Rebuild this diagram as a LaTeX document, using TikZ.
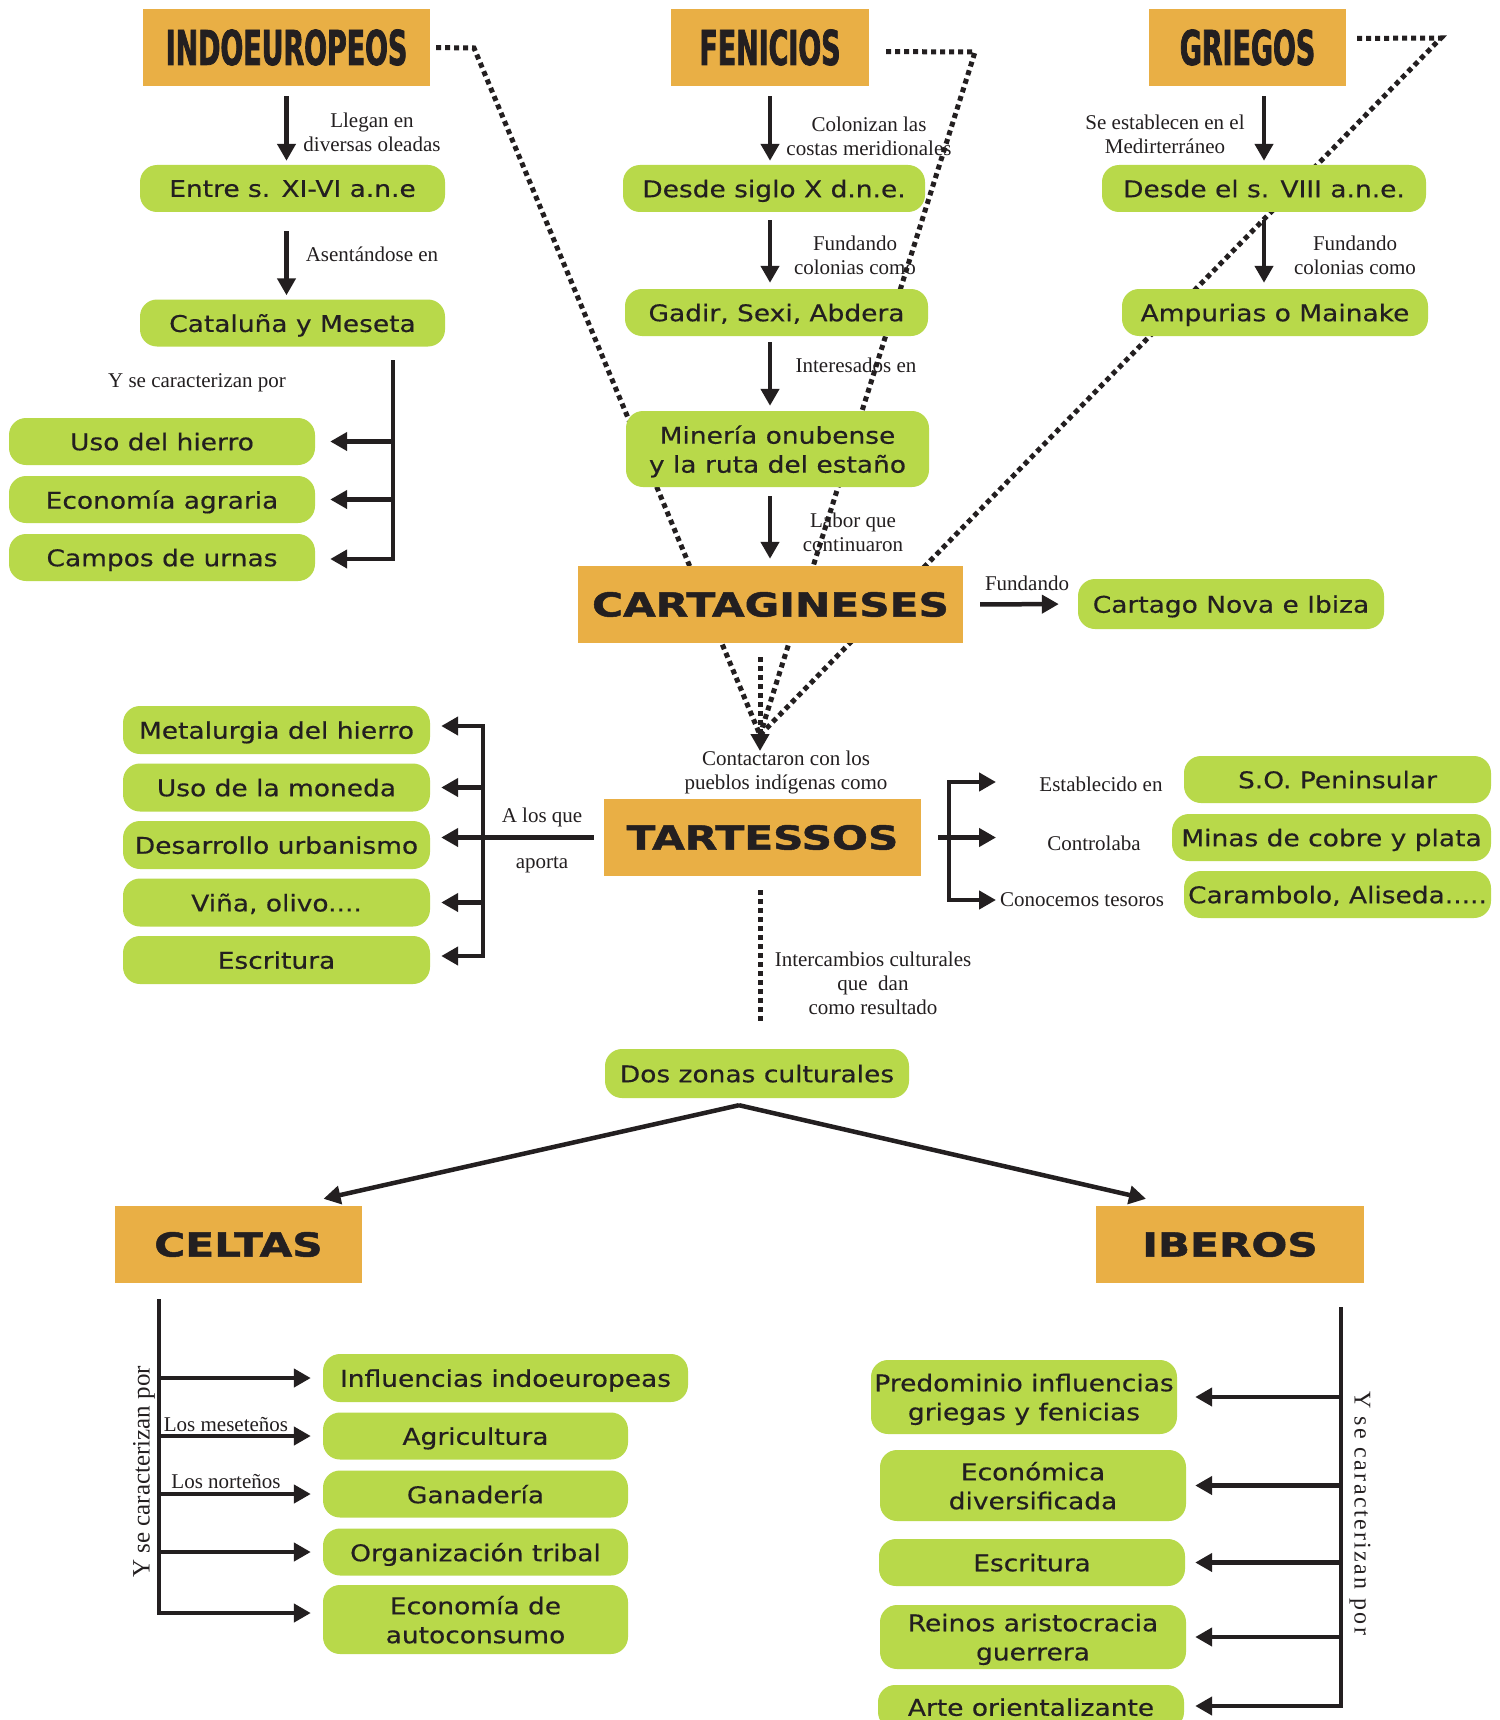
\documentclass[tikz,border=0pt]{standalone}
\usepackage{fontspec}
\usepackage{tikz}
\usetikzlibrary{arrows.meta,positioning,backgrounds}
\usepackage{color}
\setmainfont{Liberation Serif}
\newfontfamily\estrecha[FakeStretch=0.56,FakeBold=1.5]{DejaVu Sans}
\newfontfamily\ancha[FakeStretch=1.28,FakeBold=1.5]{DejaVu Sans}
\newfontfamily\redonda[FakeStretch=1.15,FakeBold=0.4]{DejaVu Sans}
\newfontfamily\espaciada[LetterSpace=10]{Liberation Serif}
\definecolor{naranja}{RGB}{233,175,69}
\definecolor{verde}{RGB}{184,217,74}
\definecolor{tinta}{RGB}{35,31,32}

\begin{document}
\begin{tikzpicture}[x=1pt,y=-1pt,>={Triangle[length=17pt,width=18pt]},node distance=58pt,
		origen/.style={fill=naranja,text=tinta,inner sep=0pt,minimum height=77pt,font=\estrecha\bfseries\fontsize{48}{48}\selectfont},
		pueblo/.style={fill=naranja,text=tinta,inner sep=0pt,minimum height=77pt,font=\ancha\bfseries\fontsize{33}{33}\selectfont},
		hecho/.style={fill=verde,text=tinta,rounded corners=17pt,inner sep=0pt,minimum width=306pt,minimum height=47pt,align=center,text depth=0pt,font=\redonda\fontsize{23}{29}\selectfont},
		nota/.style={text=tinta,inner sep=0pt,align=center,font=\fontsize{21}{24}\selectfont},
		flecha/.style={->,draw=tinta,line width=4.5pt},
		puntos/.style={draw=tinta,line width=5pt,dash pattern=on 5pt off 4pt}]
	\useasboundingbox (0,0) rectangle (1499,1720);
	\clip (0,0) rectangle (1499,1720);

	\node	[origen, minimum width=287pt]	(indo)	at (286.5,47.5)		{INDOEUROPEOS};
	\node	[origen, minimum width=198pt]	(feni)	at (770,47.5)		{FENICIOS};
	\node	[origen, minimum width=197pt]	(grie)	at (1247.5,47.5)	{GRIEGOS};
	\node	[pueblo, minimum width=385pt]	(carta)	at (770.5,604.5)	{CARTAGINESES};
	\node	[pueblo, minimum width=317pt]	(tarte)	at (762.5,837.5)	{TARTESSOS};
	\node	[pueblo, minimum width=247pt]	(celta)	at (238.5,1244.5)	{CELTAS};
	\node	[pueblo, minimum width=268pt]	(ibero)	at (1230,1244.5)	{IBEROS};

	\node	[hecho, minimum width=305pt]	(entre)		at (292.5,188.5)	{Entre s. XI-VI a.n.e};
	\node	[hecho, minimum width=305pt]	(catal)		at (292.5,323)		{Cataluña y Meseta};
	\node	[hecho]							(hierro)	at (162,441.5)		{Uso del hierro};
	\node	[hecho]							(agraria)	[below of=hierro]	{Economía agraria};
	\node	[hecho]							(urnas)		[below of=agraria]	{Campos de urnas};

	\node	[hecho, minimum width=302pt]	(desdex)	at (774,188.5)		{Desde siglo X d.n.e.};
	\node	[hecho, minimum width=303pt]	(gadir)		at (776.5,312.5)	{Gadir, Sexi, Abdera};
	\node	[hecho, minimum width=303pt, minimum height=76pt]	(mineria)	at (777.5,449)	{Minería onubense\\y la ruta del estaño};
	\node	[hecho, minimum width=324pt]	(desdeviii)	at (1264,188.5)		{Desde el s. VIII a.n.e.};
	\node	[hecho]							(ampurias)	at (1275,312.5)		{Ampurias o Mainake};
	\node	[hecho, minimum height=50pt]	(cartago)	at (1231,604)		{Cartago Nova e Ibiza};

	\node	[hecho, minimum width=307pt, minimum height=48pt]	(metal)	at (276.5,730)	{Metalurgia del hierro};
	\node	[hecho, minimum width=307pt, minimum height=48pt]	(moneda)	[below of=metal, node distance=57.5pt]	{Uso de la moneda};
	\node	[hecho, minimum width=307pt, minimum height=48pt]	(urban)		[below of=moneda, node distance=57.5pt]	{Desarrollo urbanismo};
	\node	[hecho, minimum width=307pt, minimum height=48pt]	(vina)		[below of=urban, node distance=57.5pt]	{Viña, olivo....};
	\node	[hecho, minimum width=307pt, minimum height=48pt]	(escri)		[below of=vina, node distance=57.5pt]	{Escritura};

	\node	[hecho, minimum width=307pt]	(peninsular)	at (1337.5,779.5)	{S.O. Peninsular};
	\node	[hecho, minimum width=319pt]	(minas)			at (1331.5,837.5)	{Minas de cobre y plata};
	\node	[hecho, minimum width=307pt]	(carambolo)		at (1337.5,894.5)	{Carambolo, Aliseda.....};
	\node	[hecho, minimum width=304pt, minimum height=49pt]	(zonas)	at (757,1073.5)	{Dos zonas culturales};

	\node	[hecho, minimum width=365pt, minimum height=48pt]	(influ)	at (505.5,1378)	{Influencias indoeuropeas};
	\node	[hecho, minimum width=305pt]	(agri)	at (475.5,1436)		{Agricultura};
	\node	[hecho, minimum width=305pt]	(gana)	[below of=agri]		{Ganadería};
	\node	[hecho, minimum width=305pt]	(orga)	[below of=gana]		{Organización tribal};
	\node	[hecho, minimum width=305pt, minimum height=69pt]	(autoc)	at (475.5,1619.5)	{Economía de\\autoconsumo};

	\node	[hecho, minimum height=74pt]	(predo)		at (1024,1397)		{Predominio influencias\\griegas y fenicias};
	\node	[hecho, minimum height=71pt]	(diver)		at (1033,1485.5)	{Económica\\diversificada};
	\node	[hecho]							(escrib)	at (1032,1562.5)	{Escritura};
	\node	[hecho, minimum height=64pt]	(reinos)	at (1033,1637)		{Reinos aristocracia\\guerrera};
	\node	[hecho, minimum height=44pt]	(arte)		at (1031,1707)		{Arte orientalizante};

	\node	[nota]	(llegan)		at (372,132)	{Llegan en\\diversas oleadas};
	\node	[nota]	(asentando)		at (372,254)	{Asentándose en};
	\node	[nota]	(caracind)		at (197,383)	{Y se caracterizan por};
	\node	[nota]	(colonizan)		at (869,136)	{Colonizan las\\costas meridionales};
	\node	[nota]	(fundafen)		at (855,255)	{Fundando\\colonias como};
	\node	[nota]	(interes)		at (856,365)	{Interesados en};
	\node	[nota]	(labor)			at (853,532)	{Labor que\\continuaron};
	\node	[nota]	(establecen)	at (1165,134)	{Se establecen en el\\Medirterráneo};
	\node	[nota]	(fundagri)		at (1355,255)	{Fundando\\colonias como};
	\node	[nota]	(fundacar)		at (1027,583)	{Fundando};
	\node	[nota]	(contacto)		at (786,772)	{Contactaron con los\\pueblos indígenas como};
	\node	[nota]	(alosque)		at (542,817)	{A los que};
	\node	[nota]	(aporta)		at (542,865)	{aporta};
	\node	[nota]	(establecido)	at (1101,784)	{Establecido en};
	\node	[nota]	(controla)		at (1094,843)	{Controlaba};
	\node	[nota]	(conocemos)		at (1082,900)	{Conocemos tesoros};
	\node	[nota]	(intercambio)	at (873,983)	{Intercambios culturales\\que~ dan\\como resultado};
	\node	[nota]	(meseta)		at (226,1425)	{Los meseteños};
	\node	[nota]	(norte)			at (226,1482)	{Los norteños};
	\node	[nota, rotate=90, font=\fontsize{25}{25}\selectfont]			(caraccel)	at (144,1472)	{Y se caracterizan por};
	\node	[nota, rotate=-90, font=\espaciada\fontsize{24}{24}\selectfont]	(caracibe)	at (1360,1513)	{Y se caracterizan por};

	\begin{scope}[on background layer]
		\fill	[white]	(0,0) rectangle (1499,1720);
		\coordinate	(encuentro)	at (760,735);
		\coordinate	(indocodo)	at (474,48);
		\coordinate	(fenicodo)	at (975,52);
		\coordinate	(griecodo)	at (1441,38);
		\coordinate	(punta)		at (760,751);
		\draw	[puntos, shorten <=6pt]		(indo.east) -- (indocodo) -- (encuentro);
		\draw	[puntos, shorten <=17pt]	([yshift=-4pt]feni.east) -- (fenicodo) -- (encuentro);
		\draw	[puntos, shorten <=11pt]	([yshift=9pt]grie.east) -- (griecodo) -- (encuentro);
		\draw	[puntos, shorten <=14pt, ->]	(encuentro |- carta.south) -- (punta);
		\draw	[puntos, shorten <=14pt, shorten >=26pt]	(encuentro |- tarte.south) -- (encuentro |- zonas.north);
	\end{scope}

	\path
		(indo.south)					edge	[flecha, shorten <=10pt, shorten >=4pt]	(indo.south |- entre.north)
		(indo.south |- entre.south)		edge	[flecha, shorten <=19pt, shorten >=4pt]	(indo.south |- catal.north)
		(feni.south)					edge	[flecha, shorten <=10pt, shorten >=4pt]	(feni.south |- desdex.north)
		(feni.south |- desdex.south)	edge	[flecha, shorten <=8pt, shorten >=6pt]	(feni.south |- gadir.north)
		(feni.south |- gadir.south)		edge	[flecha, shorten <=6pt, shorten >=5pt]	(feni.south |- mineria.north)
		(feni.south |- mineria.south)	edge	[flecha, shorten <=9pt, shorten >=7pt]	(feni.south |- carta.north)
		(desdeviii.north |- grie.south)	edge	[flecha, shorten <=10pt, shorten >=4pt]	(desdeviii.north)
		(desdeviii.south)				edge	[flecha, shorten <=8pt, shorten >=6pt]	(desdeviii.south |- ampurias.north)
		(carta.east)					edge	[flecha, shorten <=17pt, shorten >=19pt]	(cartago.west)
	;

	\coordinate	(ib)		at (393,360);
	\coordinate	(ibfin)		at (393,559);
	\draw	[flecha, shorten >=15pt]	(ib) -- (ibfin) -- (ibfin -| urnas.east);
	\path
		(ib |- hierro.east)		edge	[flecha, shorten >=15pt]	(hierro.east)
		(ib |- agraria.east)	edge	[flecha, shorten >=15pt]	(agraria.east)
	;

	\coordinate	(tl)		at (483,726);
	\coordinate	(tlfin)		at (483,956);
	\draw	[flecha, <->, shorten <=11pt, shorten >=11pt]	(tl -| metal.east) -- (tl) -- (tlfin) -- (tlfin -| escri.east);
	\path
		(tarte.west)			edge	[flecha, shorten <=10pt, shorten >=11pt]	(tarte.west -| urban.east)
		(tl |- moneda.east)		edge	[flecha, shorten >=11pt]	(moneda.east)
		(tl |- vina.east)		edge	[flecha, shorten >=11pt]	(vina.east)
	;

	\coordinate	(tr)		at (949,782);
	\coordinate	(trfin)		at (949,900);
	\coordinate	(trarriba)	at (996,782);
	\coordinate	(trabajo)	at (996,900);
	\draw	[flecha, <->]	(trarriba) -- (tr) -- (trfin) -- (trabajo);
	\path	(tarte.east)	edge	[flecha, shorten <=17pt]	(tarte.east -| trarriba);

	\coordinate	(reparto)		at ([xshift=-18pt,yshift=-7pt]zonas.south);
	\coordinate	(haciaceltas)	at ([xshift=85pt,yshift=7pt]celta.north);
	\coordinate	(haciaiberos)	at ([xshift=-84pt,yshift=7pt]ibero.north);
	\path
		(reparto)	edge	[flecha]	(haciaceltas)
		(reparto)	edge	[flecha]	(haciaiberos)
	;

	\coordinate	(cb)		at (159,1299);
	\coordinate	(cbfin)		at (159,1613);
	\draw	[flecha, shorten >=12pt]	(cb) -- (cbfin) -- (cbfin -| autoc.west);
	\path
		(cb |- influ.west)	edge	[flecha, shorten >=12pt]	(influ.west)
		(cb |- agri.west)	edge	[flecha, shorten >=12pt]	(agri.west)
		(cb |- gana.west)	edge	[flecha, shorten >=12pt]	(gana.west)
		(cb |- orga.west)	edge	[flecha, shorten >=12pt]	(orga.west)
	;

	\coordinate	(ibr)		at (1341,1307);
	\coordinate	(ibrfin)	at (1341,1706);
	\draw	[flecha, shorten >=11pt]	(ibr) -- (ibrfin) -- (ibrfin -| arte.east);
	\path
		(ibr |- predo.east)		edge	[flecha, shorten >=18pt]	(predo.east)
		(ibr |- diver.east)		edge	[flecha, shorten >=9pt]		(diver.east)
		(ibr |- escrib.east)	edge	[flecha, shorten >=10pt]	(escrib.east)
		(ibr |- reinos.east)	edge	[flecha, shorten >=9pt]		(reinos.east)
	;
\end{tikzpicture}
\end{document}
